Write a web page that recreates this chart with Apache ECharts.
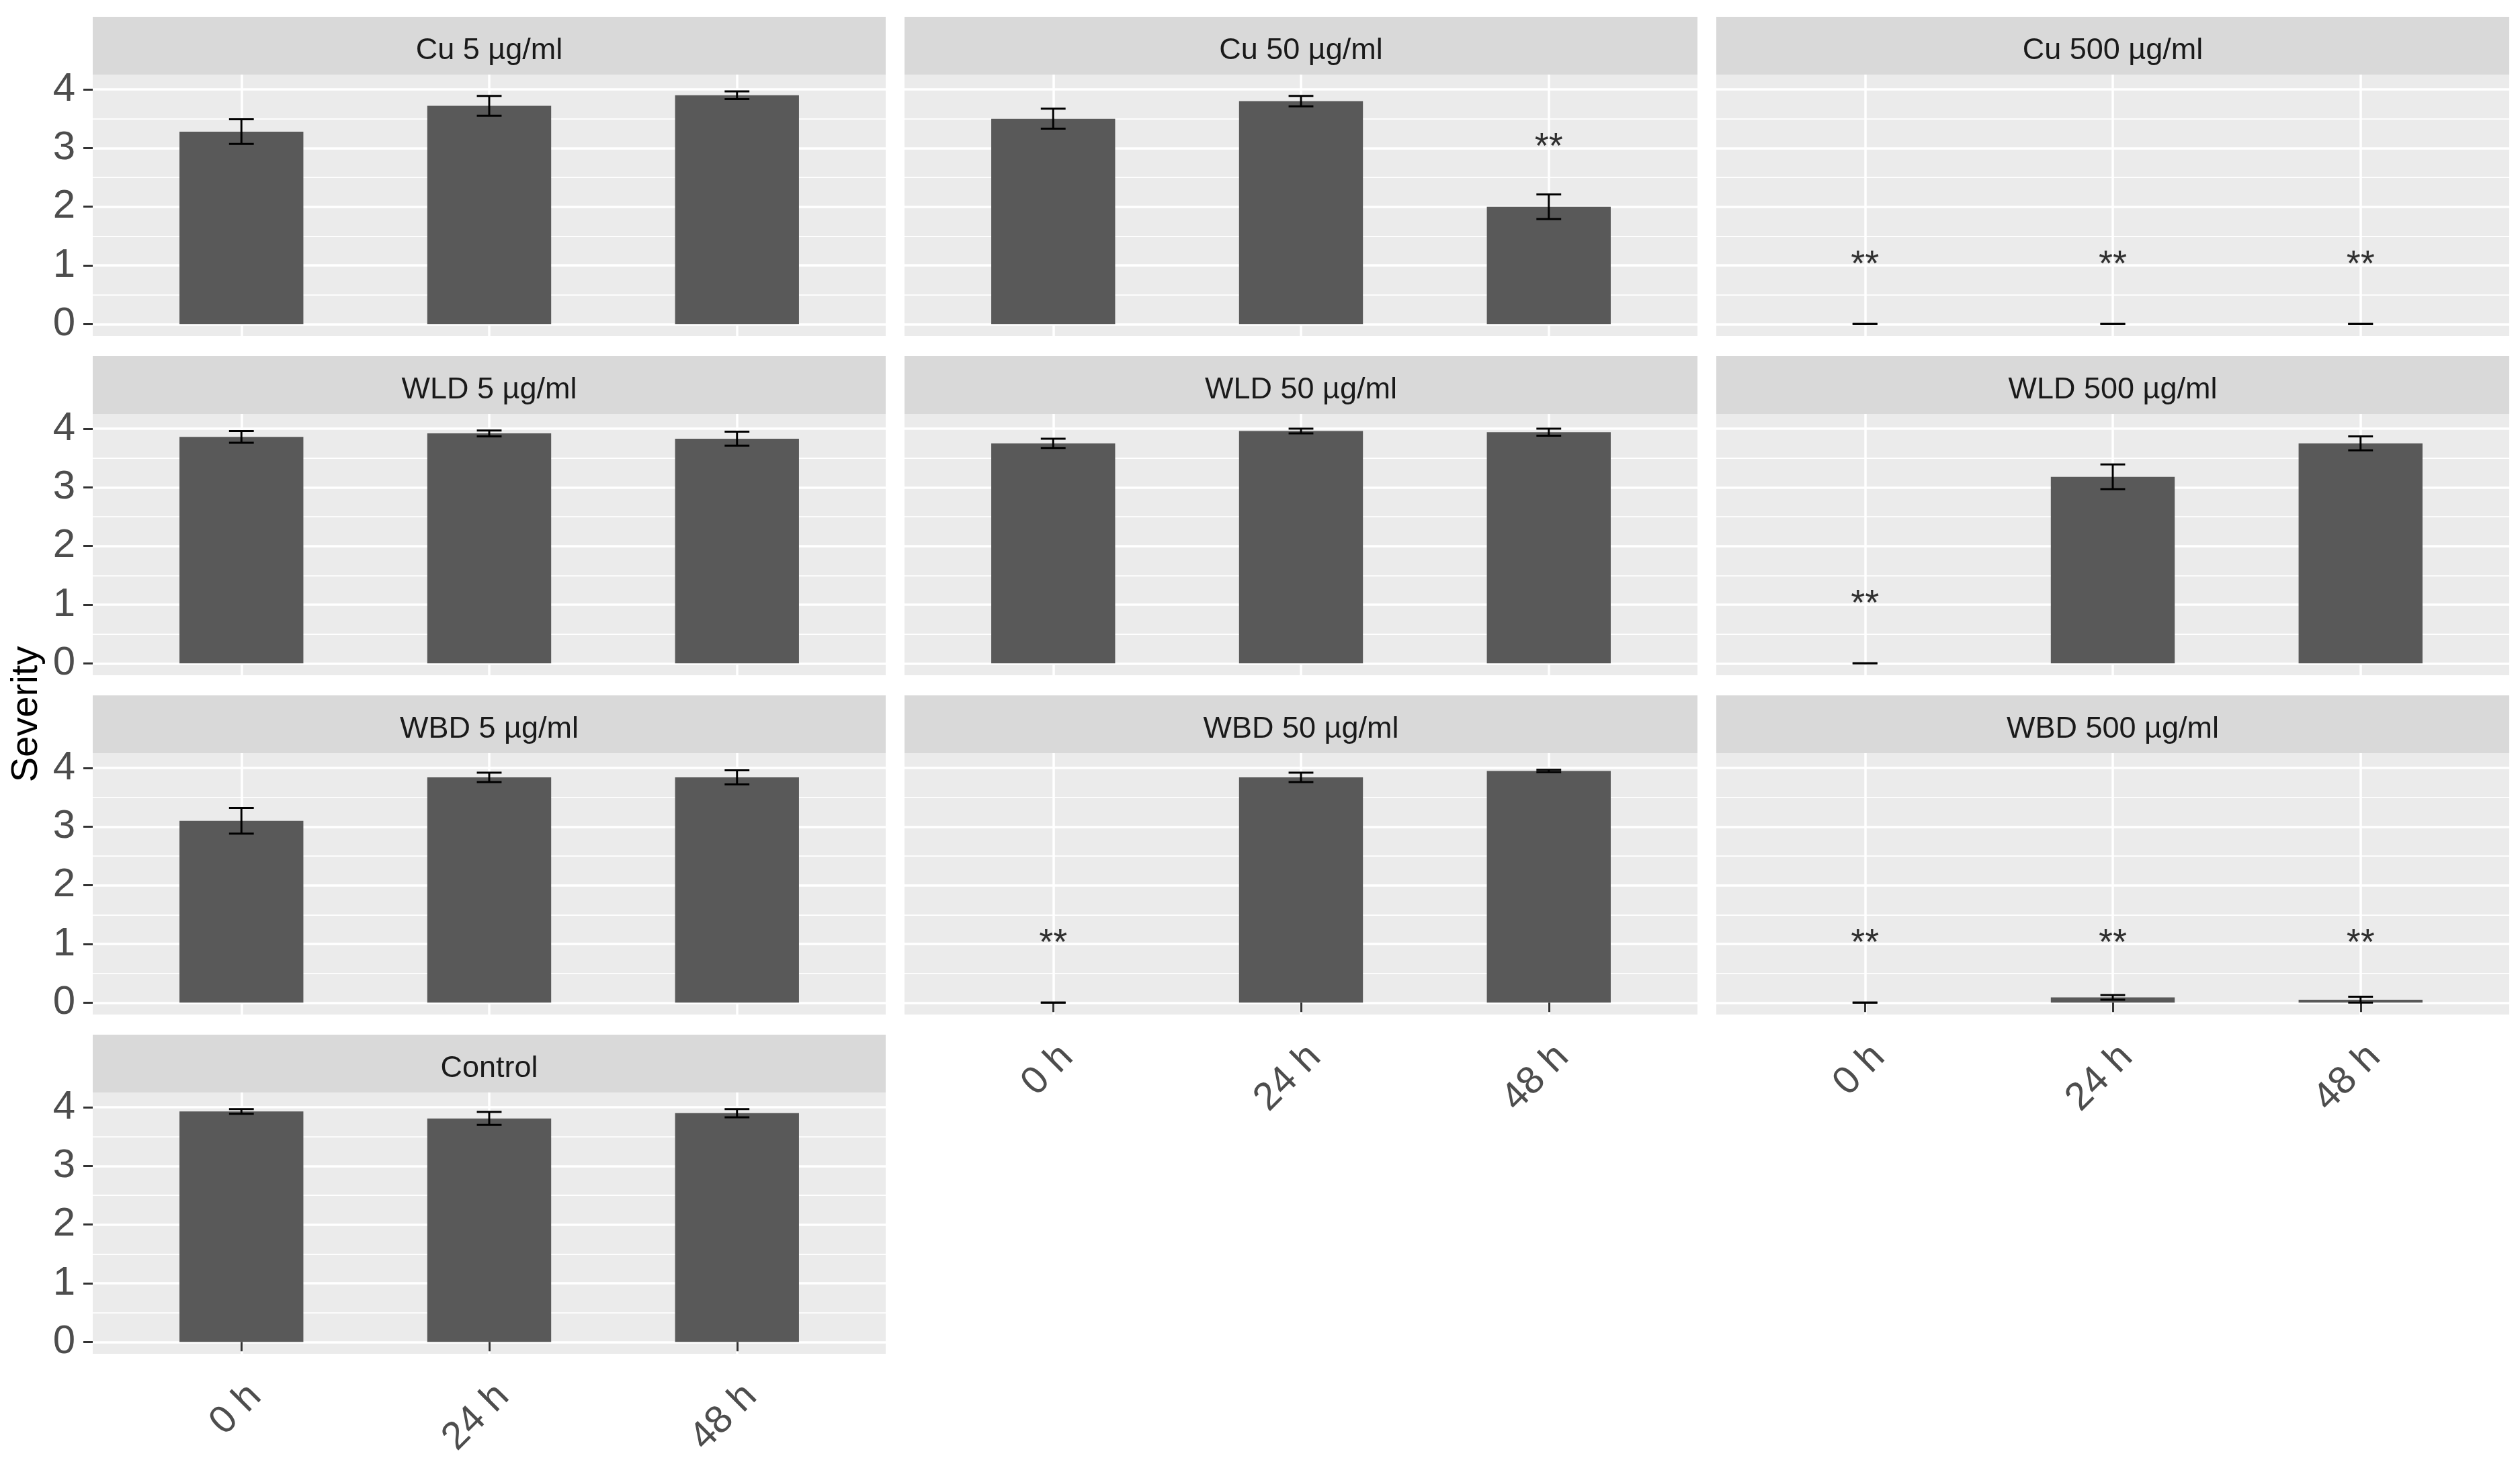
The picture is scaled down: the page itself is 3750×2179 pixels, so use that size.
<!DOCTYPE html>
<html>
<head>
<meta charset="utf-8">
<script src="https://cdn.jsdelivr.net/npm/echarts@6/dist/echarts.min.js"></script>
<style>html,body{margin:0;padding:0;background:#fff}#c{width:3750px;height:2179px}</style>
</head>
<body>
<div id="c"></div>
<script>
// ---------- data ----------
const times = ['0 h', '24 h', '48 h'];
const panelTitles = ['Cu 5 µg/ml', 'Cu 50 µg/ml', 'Cu 500 µg/ml',
  'WLD 5 µg/ml', 'WLD 50 µg/ml', 'WLD 500 µg/ml',
  'WBD 5 µg/ml', 'WBD 50 µg/ml', 'WBD 500 µg/ml', 'Control'];
const severityMean = [
  [3.28, 3.72, 3.90],
  [3.50, 3.80, 2.00],
  [0, 0, 0],
  [3.86, 3.92, 3.83],
  [3.75, 3.96, 3.94],
  [0, 3.18, 3.75],
  [3.10, 3.84, 3.84],
  [0, 3.84, 3.95],
  [0, 0.09, 0.05],
  [3.93, 3.81, 3.90]
];
const severitySE = [
  [0.21, 0.17, 0.065],
  [0.17, 0.09, 0.21],
  [0, 0, 0],
  [0.10, 0.05, 0.12],
  [0.08, 0.04, 0.06],
  [0, 0.21, 0.12],
  [0.22, 0.08, 0.12],
  [0, 0.08, 0.02],
  [0, 0.04, 0.05],
  [0.04, 0.11, 0.07]
];
const starY = [
  [null, null, null],
  [null, null, 3],
  [1, 1, 1],
  [null, null, null],
  [null, null, null],
  [1, null, null],
  [null, null, null],
  [1, null, null],
  [1, 1, 1],
  [null, null, null]
];
const starText = '**';
const yTicks = [0, 1, 2, 3, 4];
const yMinorTicks = [0.5, 1.5, 2.5, 3.5];
const yTitle = 'Severity';

// ---------- layout ----------
const FONT = '"Liberation Sans", Arial, sans-serif';
const colLeft = [138, 1346, 2554];
const rowTop = [25, 530, 1035, 1540];
const panelW = 1180, stripH = 86, plotH = 389;
const panelRC = [[0,0],[0,1],[0,2],[1,0],[1,1],[1,2],[2,0],[2,1],[2,2],[3,0]];
const bottomPanels = [7, 8, 9];
const xMin = 0.4, xMax = 3.6, yMin = -0.2025, yMax = 4.2525;
const barW = panelW * 0.5 / (xMax - xMin);

const grids = [], xAxes = [], yAxes = [], series = [], graphics = [];

panelTitles.forEach((title, i) => {
  const [r, c] = panelRC[i];
  const left = colLeft[c], top = rowTop[r];
  const isBottom = bottomPanels.includes(i);
  const isLeft = c === 0;
  graphics.push({
    type: 'rect', z: -1,
    shape: { x: left, y: top, width: panelW, height: stripH },
    style: { fill: '#D9D9D9' }
  });
  graphics.push({
    type: 'text', x: left + panelW / 2, y: top + stripH / 2 + 8,
    style: { text: title, align: 'center', verticalAlign: 'middle',
      font: '45px ' + FONT, fill: '#1A1A1A' }
  });
  grids.push({
    left: left, top: top + stripH, width: panelW, height: plotH,
    show: true, backgroundColor: '#EBEBEB', borderWidth: 0, borderColor: 'transparent'
  });
  xAxes.push({
    type: 'value', gridIndex: i, min: xMin, max: xMax,
    axisLine: { show: false },
    axisTick: { show: isBottom, customValues: [1, 2, 3], length: 14,
      lineStyle: { color: '#333333', width: 3 } },
    axisLabel: { show: isBottom, customValues: [1, 2, 3], rotate: 45,
      align: 'right', verticalAlign: 'top', margin: 34,
      fontSize: 58, fontFamily: FONT, color: '#4D4D4D',
      formatter: v => times[Math.round(v) - 1] },
    splitLine: { show: true, lineStyle: { color: '#FFFFFF', width: 3.5 } }
  });
  yAxes.push({
    type: 'value', gridIndex: i, min: yMin, max: yMax, position: 'left',
    axisLine: { show: false },
    axisTick: { show: isLeft, customValues: yTicks, length: 14,
      lineStyle: { color: '#333333', width: 3 } },
    axisLabel: { show: isLeft, customValues: yTicks, margin: 26,
      fontSize: 60, fontFamily: FONT, color: '#4D4D4D' },
    splitLine: { show: true, lineStyle: { color: '#FFFFFF', width: 3.5 } }
  });
  yAxes.push({
    type: 'value', gridIndex: i, min: yMin, max: yMax, position: 'right',
    axisLine: { show: false },
    axisTick: { show: false, customValues: yMinorTicks },
    axisLabel: { show: false, customValues: yMinorTicks },
    splitLine: { show: true, lineStyle: { color: '#FFFFFF', width: 1.75 } }
  });
  series.push({
    type: 'bar', xAxisIndex: i, yAxisIndex: 2 * i, barWidth: barW,
    itemStyle: { color: '#595959' }, silent: true, z: 3,
    data: times.map((t, j) => [j + 1, severityMean[i][j]])
  });
  series.push({
    type: 'custom', xAxisIndex: i, yAxisIndex: 2 * i, silent: true, z: 4,
    encode: { x: 0, y: [1, 2] },
    data: times.map((t, j) => [j + 1, severityMean[i][j] - severitySE[i][j], severityMean[i][j] + severitySE[i][j]]),
    renderItem: (params, api) => {
      const x = api.value(0);
      const lo = api.coord([x, api.value(1)]);
      const hi = api.coord([x, api.value(2)]);
      const half = api.size([0.1, 0])[0] / 2;
      const st = { stroke: '#000000', lineWidth: 3 };
      return { type: 'group', children: [
        { type: 'line', shape: { x1: hi[0], y1: hi[1], x2: lo[0], y2: lo[1] }, style: st },
        { type: 'line', shape: { x1: hi[0] - half, y1: hi[1], x2: hi[0] + half, y2: hi[1] }, style: st },
        { type: 'line', shape: { x1: lo[0] - half, y1: lo[1], x2: lo[0] + half, y2: lo[1] }, style: st }
      ]};
    }
  });
  const stars = [];
  times.forEach((t, j) => { if (starY[i][j] !== null) stars.push([j + 1, starY[i][j]]); });
  series.push({
    type: 'scatter', xAxisIndex: i, yAxisIndex: 2 * i, silent: true, z: 5,
    symbolSize: 0, data: stars,
    label: { show: true, position: 'inside', formatter: starText,
      fontSize: 54, fontFamily: FONT, color: '#000000' }
  });
});

graphics.push({
  type: 'text', x: 40, y: 1063, rotation: Math.PI / 2,
  style: { text: yTitle, align: 'center', verticalAlign: 'middle',
    font: '56px ' + FONT, fill: '#000000' }
});

const chart = echarts.init(document.getElementById('c'));
chart.setOption({
  animation: false,
  backgroundColor: '#FFFFFF',
  grid: grids, xAxis: xAxes, yAxis: yAxes, series: series,
  graphic: { elements: graphics }
});
</script>
</body>
</html>
